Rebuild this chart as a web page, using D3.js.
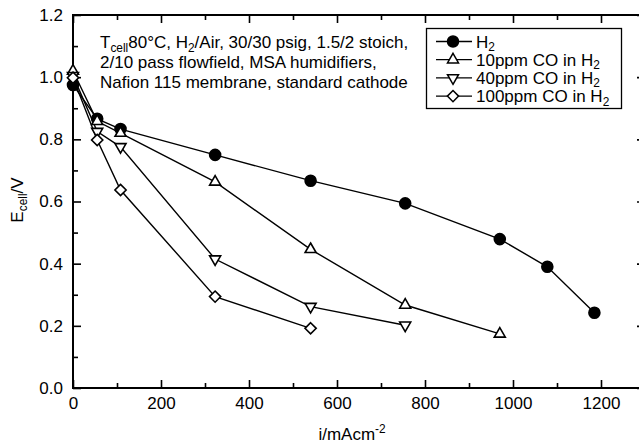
<!DOCTYPE html>
<html>
<head>
<meta charset="utf-8">
<script src="https://cdn.jsdelivr.net/npm/d3@7"></script>
<style>
  html, body { margin: 0; padding: 0; background: #fff; }
  svg { display: block; font-family: "Liberation Sans", Arial, Helvetica, sans-serif; }
</style>
</head>
<body>
<svg id="chart" width="639" height="445"></svg>
<script>
// Polarization curves: cell voltage vs current density
const seriesNames = ["H2", "10ppm CO in H2", "40ppm CO in H2", "100ppm CO in H2"];
const seriesMarkers = ["circle", "triangleUp", "triangleDown", "diamond"];

const h2Current   = [0, 55, 108, 323, 540, 755, 970, 1078, 1185];
const h2Voltage   = [0.975, 0.866, 0.833, 0.750, 0.667, 0.594, 0.479, 0.390, 0.242];

const co10Current = [0, 55, 108, 323, 540, 755, 970];
const co10Voltage = [1.020, 0.858, 0.820, 0.663, 0.446, 0.267, 0.174];

const co40Current = [0, 55, 108, 323, 540, 755];
const co40Voltage = [1.005, 0.825, 0.776, 0.415, 0.262, 0.202];

const co100Current = [0, 55, 108, 323, 540];
const co100Voltage = [0.998, 0.798, 0.637, 0.294, 0.192];

const xMajorTicks = [0, 200, 400, 600, 800, 1000, 1200];
const xMinorTicks = [100, 300, 500, 700, 900, 1100, 1300];
const yMajorTicks = [0.0, 0.2, 0.4, 0.6, 0.8, 1.0, 1.2];
const yMinorTicks = [0.1, 0.3, 0.5, 0.7, 0.9, 1.1];

const noteLines = [
  [["T", 0], ["cell", 1], ["80°C, H", 0], ["2", 1], ["/Air, 30/30 psig, 1.5/2 stoich,", 0]],
  [["2/10 pass flowfield, MSA humidifiers,", 0]],
  [["Nafion 115 membrane, standard cathode", 0]]
];

const series = [
  { name: seriesNames[0], marker: seriesMarkers[0], x: h2Current, y: h2Voltage },
  { name: seriesNames[1], marker: seriesMarkers[1], x: co10Current, y: co10Voltage },
  { name: seriesNames[2], marker: seriesMarkers[2], x: co40Current, y: co40Voltage },
  { name: seriesNames[3], marker: seriesMarkers[3], x: co100Current, y: co100Voltage }
];

const svg = d3.select("#chart");
const plotLeft = 73, plotRight = 645, plotTop = 15, plotBottom = 388;
const FS = 17;

const x = d3.scaleLinear().domain([0, 1300]).range([plotLeft, plotRight]);
const y = d3.scaleLinear().domain([0, 1.2]).range([plotBottom, plotTop]);

// marker path generator centred on origin
function markerPath(type) {
  if (type === "circle") return d3.symbol(d3.symbolCircle, 95)();
  if (type === "triangleUp") {
    const s = 11, h = s * Math.sqrt(3) / 2;
    return `M0,${-h * 2 / 3}L${s / 2},${h / 3}L${-s / 2},${h / 3}Z`;
  }
  if (type === "triangleDown") {
    const s = 11, h = s * Math.sqrt(3) / 2;
    return `M0,${h * 2 / 3}L${s / 2},${-h / 3}L${-s / 2},${-h / 3}Z`;
  }
  const r = 5.6;
  return `M0,${-r}L${r},0L0,${r}L${-r},0Z`;
}

// axes with inward ticks on all four sides
const axisStyle = g => {
  g.select(".domain").remove();
  g.selectAll("line").attr("stroke", "#000").attr("stroke-width", 1.6);
};

svg.append("g").attr("transform", `translate(0,${plotBottom})`)
  .call(d3.axisBottom(x).tickValues(xMajorTicks).tickSize(-8).tickPadding(9).tickFormat(d3.format("d")))
  .call(axisStyle)
  .call(g => g.selectAll("text").attr("font-size", FS).attr("fill", "#000").attr("font-family", null));
svg.append("g").attr("transform", `translate(0,${plotBottom})`)
  .call(d3.axisBottom(x).tickValues(xMinorTicks).tickSize(-5).tickFormat(""))
  .call(axisStyle);

svg.append("g").attr("transform", `translate(0,${plotTop})`)
  .call(d3.axisTop(x).tickValues(xMajorTicks).tickSize(-8).tickFormat(""))
  .call(axisStyle);
svg.append("g").attr("transform", `translate(0,${plotTop})`)
  .call(d3.axisTop(x).tickValues(xMinorTicks).tickSize(-5).tickFormat(""))
  .call(axisStyle);

svg.append("g").attr("transform", `translate(${plotLeft},0)`)
  .call(d3.axisLeft(y).tickValues(yMajorTicks).tickSize(-8).tickPadding(10).tickFormat(d3.format(".1f")))
  .call(axisStyle)
  .call(g => g.selectAll("text").attr("font-size", FS).attr("fill", "#000").attr("font-family", null));
svg.append("g").attr("transform", `translate(${plotLeft},0)`)
  .call(d3.axisLeft(y).tickValues(yMinorTicks).tickSize(-5).tickFormat(""))
  .call(axisStyle);

svg.append("g").attr("transform", `translate(${plotRight},0)`)
  .call(d3.axisRight(y).tickValues(yMajorTicks).tickSize(-8).tickFormat(""))
  .call(axisStyle);
svg.append("g").attr("transform", `translate(${plotRight},0)`)
  .call(d3.axisRight(y).tickValues(yMinorTicks).tickSize(-5).tickFormat(""))
  .call(axisStyle);

// frame
svg.append("rect")
  .attr("x", plotLeft).attr("y", plotTop)
  .attr("width", plotRight - plotLeft).attr("height", plotBottom - plotTop)
  .attr("fill", "none").attr("stroke", "#000").attr("stroke-width", 2);

// data lines and markers
const line = d3.line().x(d => x(d[0])).y(d => y(d[1]));
series.forEach(s => {
  const pts = s.x.map((v, i) => [v, s.y[i]]);
  svg.append("path").datum(pts)
    .attr("d", line)
    .attr("fill", "none").attr("stroke", "#000").attr("stroke-width", 1.4);
});
series.forEach(s => {
  const pts = s.x.map((v, i) => [v, s.y[i]]);
  svg.append("g").selectAll("path").data(pts).join("path")
    .attr("transform", d => `translate(${x(d[0])},${y(d[1])})`)
    .attr("d", markerPath(s.marker))
    .attr("fill", s.marker === "circle" ? "#000" : "#fff")
    .attr("stroke", "#000").attr("stroke-width", 1.6);
});

// annotation text
const note = svg.append("text").attr("font-size", FS).attr("fill", "#000");
noteLines.forEach((parts, li) => {
  parts.forEach((p, pi) => {
    const t = note.append("tspan").text(p[0]);
    if (pi === 0) t.attr("x", 100).attr("y", 48 + li * 20);
    if (p[1]) t.attr("font-size", FS * 0.7).attr("dy", 3.5);
    else if (pi > 0 && parts[pi - 1][1]) t.attr("dy", -3.5);
  });
});

// legend
const lg = svg.append("g");
lg.append("rect").attr("x", 426.5).attr("y", 28.5).attr("width", 195).attr("height", 80)
  .attr("fill", "#fff").attr("stroke", "#000").attr("stroke-width", 1.3);
series.forEach((s, i) => {
  const cy = 41.5 + i * 18.2;
  lg.append("line").attr("x1", 436).attr("x2", 472).attr("y1", cy).attr("y2", cy)
    .attr("stroke", "#000").attr("stroke-width", 1.3);
  lg.append("path").attr("transform", `translate(453,${cy})`)
    .attr("d", markerPath(s.marker))
    .attr("fill", s.marker === "circle" ? "#000" : "#fff")
    .attr("stroke", "#000").attr("stroke-width", 1.5);
  const t = lg.append("text").attr("x", 476).attr("y", cy + 6).attr("font-size", FS).attr("fill", "#000");
  const label = s.name.slice(0, -1);
  t.append("tspan").text(label);
  t.append("tspan").text("2").attr("font-size", FS * 0.7).attr("dy", 3.5);
});

// axis titles
const yt = svg.append("text").attr("font-size", FS).attr("fill", "#000")
  .attr("text-anchor", "middle")
  .attr("transform", "translate(23,200) rotate(-90)");
yt.append("tspan").text("E");
yt.append("tspan").text("cell").attr("font-size", FS * 0.7).attr("dy", 4);
yt.append("tspan").text("/V").attr("dy", -4);

const xt = svg.append("text").attr("font-size", FS).attr("fill", "#000")
  .attr("text-anchor", "middle").attr("x", 352).attr("y", 440);
xt.append("tspan").text("i/mAcm");
xt.append("tspan").text("-2").attr("font-size", FS * 0.7).attr("dy", -7);
</script>
</body>
</html>
